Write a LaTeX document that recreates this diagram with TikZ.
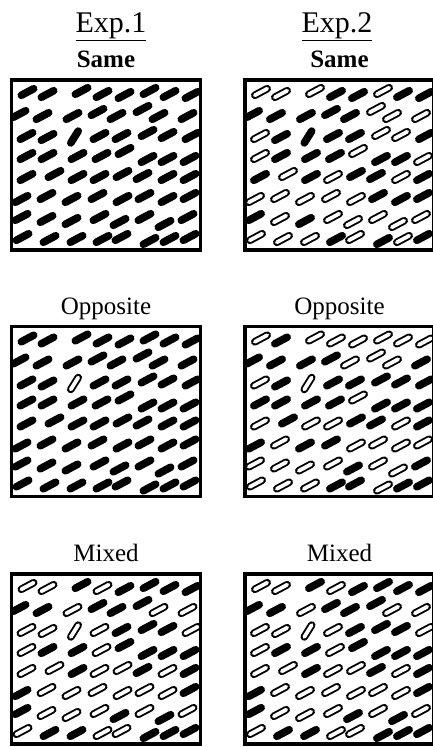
\documentclass[tikz,border=0pt]{standalone}
\usepackage{fontspec}
\setmainfont{Liberation Serif}

% bar centres inside one panel, row by row (same jitter in every panel)
\newcommand{\barpos}{18/14, 38/16, 72/13, 93/16, 115/17, 140/13, 160/16, 182/17,
  10/36, 33/38, 63/38, 88/34, 107/38, 133/31, 149/38, 178/38,
  17/58, 38/59, 65/59, 90/58, 112/58, 138/55, 158/57, 182/58,
  17/78, 38/78, 68/78, 92/78, 115/73, 138/81, 158/81, 180/81,
  17/99, 45/96, 68/99, 90/99, 113/96, 133/98, 158/99, 180/99,
  12/121, 37/118, 62/121, 88/118, 113/121, 135/118, 158/121, 180/118,
  12/139, 37/141, 62/143, 90/139, 110/144, 135/139, 155/146, 178/139,
  13/159, 40/161, 67/161, 93/161, 112/159, 140/163, 160/161, 180/159}

% 1 = black bar, 0 = outlined bar; element 18 is the target
\def\patsameA{{1,1,1,1,1,1,1,1, 1,1,1,1,1,1,1,1, 1,1,1,1,1,1,1,1, 1,1,1,1,1,1,1,1,
  1,1,1,1,1,1,1,1, 1,1,1,1,1,1,1,1, 1,1,1,1,1,1,1,1, 1,1,1,1,1,1,1,1}}
\def\patoppA{{1,1,1,1,1,1,1,1, 1,1,1,1,1,1,1,1, 1,1,0,1,1,1,1,1, 1,1,1,1,1,1,1,1,
  1,1,1,1,1,1,1,1, 1,1,1,1,1,1,1,1, 1,1,1,1,1,1,1,1, 1,1,1,1,1,1,1,1}}
\def\patsameB{{0,0,0,1,1,0,1,1, 1,1,1,1,1,0,0,0, 0,1,1,1,1,0,0,1, 0,1,1,1,0,1,1,0,
  1,0,1,0,1,1,0,1, 0,0,0,0,0,1,1,1, 1,0,1,0,0,0,0,0, 0,0,0,1,0,1,0,1}}
\def\patoppB{{0,1,0,0,0,0,0,0, 1,1,1,1,0,0,0,1, 0,1,0,1,1,1,1,1, 1,1,1,1,0,1,1,1,
  0,1,0,0,1,1,0,1, 1,0,1,1,0,0,0,0, 0,0,0,0,1,0,0,1, 0,0,0,1,1,0,1,1}}
\def\patmix{{0,0,1,0,1,1,1,1, 1,1,0,1,1,1,0,0, 0,0,0,0,1,1,1,0, 0,1,1,0,1,1,1,1,
  0,0,1,0,0,1,0,1, 1,0,0,0,0,0,0,1, 1,0,0,0,1,0,1,0, 0,1,1,0,0,1,1,1}}

\tikzset{
  barline/.style={line width=7.6pt, line cap=round, black},
  barhole/.style={line width=3.8pt, line cap=round, white},
  frame/.style={line width=3.5pt, black},
  explabel/.style={anchor=base, inner sep=0pt, font=\fontsize{30}{34}\selectfont},
  condlabel/.style={anchor=base, inner sep=0pt, font=\fontsize{25}{28}\selectfont}
}

\begin{document}
\begin{tikzpicture}[x=1pt, y=-1pt]
	\clip (0,0) rectangle (433,747);
	\fill[white] (0,0) rectangle (433,747);
	% headings
	\node[explabel] (exp1) at (111,32) {\underline{Exp.1}};
	\node[explabel] (exp2) at (337,32) {\underline{Exp.2}};
	\node[condlabel] (same1) at (106,67.5) {\textbf{Same}};
	\node[condlabel] (same2) at (339.5,67.5) {\textbf{Same}};
	\node[condlabel] (opp1) at (106,314) {Opposite};
	\node[condlabel] (opp2) at (339.5,314) {Opposite};
	\node[condlabel] (mix1) at (106,561.5) {Mixed};
	\node[condlabel] (mix2) at (339.5,561.5) {Mixed};
	% panels
	\foreach \px/\py/\pat in {9.5/78/\patsameA, 9.5/324.5/\patoppA, 9.5/572/\patmix,
		243/78/\patsameB, 243/324.5/\patoppB, 243/572/\patmix}{
		\begin{scope}[shift={(\px,\py)}]
			\begin{scope}
				\clip (2,2) rectangle (191,172);
				\foreach \x/\y [count=\i from 0] in \barpos {
					\pgfmathtruncatemacro\f{\pat[\i]}
					\ifnum\i=18 \def\ang{58}\else\def\ang{28}\fi
					\draw[barline, shift={(\x,\y)}, rotate=\ang] (-7,0) -- (7,0);
					\ifnum\f=0 \draw[barhole, shift={(\x,\y)}, rotate=\ang] (-7,0) -- (7,0);\fi
				}
			\end{scope}
			\draw[frame] (2,2) rectangle (191,172);
		\end{scope}
	}
\end{tikzpicture}
\end{document}
